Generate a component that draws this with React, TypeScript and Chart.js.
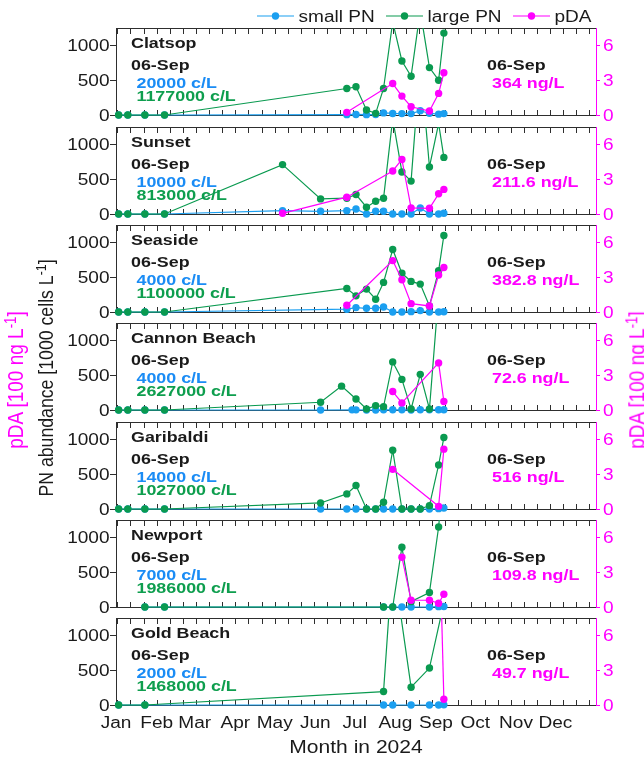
import React, { useEffect, useRef } from 'react';
import { Chart, registerables } from 'chart.js';

Chart.register(...registerables);

// ---------------- data ----------------
const siteNames = ['Clatsop', 'Sunset', 'Seaside', 'Cannon Beach', 'Garibaldi', 'Newport', 'Gold Beach'];
const latestDate = '06-Sep';
const smallLabels = ['20000 c/L', '10000 c/L', '4000 c/L', '4000 c/L', '14000 c/L', '7000 c/L', '2000 c/L'];
const largeLabels = ['1177000 c/L', '813000 c/L', '1100000 c/L', '2627000 c/L', '1027000 c/L', '1986000 c/L', '1468000 c/L'];
const pdaLabels = ['364 ng/L', '211.6 ng/L', '382.8 ng/L', '72.6 ng/L', '516 ng/L', '109.8 ng/L', '49.7 ng/L'];
const legendLabels = ['small PN', 'large PN', 'pDA'];

const monthLabels = ['Jan', 'Feb', 'Mar', 'Apr', 'May', 'Jun', 'Jul', 'Aug', 'Sep', 'Oct', 'Nov', 'Dec'];
const monthStartDays = [0, 31, 60, 91, 121, 152, 182, 213, 244, 274, 305, 335];
const minorTickDays = [1, 11, 21, 31, 41, 51, 61, 71, 81, 91, 101, 111, 121, 131, 141, 151, 161, 171, 181, 191, 201, 211, 221, 231, 241, 251, 261, 271, 281, 291, 301, 311, 321, 331, 341, 351, 361];
const pnTicks = [0, 500, 1000];
const pdaTicks = [0, 3, 6];

// Clatsop
const clatsopDays = [2, 9, 22, 37, 176, 183, 191, 198, 204, 211, 218, 225, 232, 239, 246, 250];
const clatsopSmall = [0, 0, 0, 0, 5, 8, 5, 6, 30, 22, 20, 20, 60, 25, 12, 20];
const clatsopLarge = [0, 0, 0, 0, 381, 405, 71, 24, 381, 1340, 776, 557, 1500, 681, 500, 1177];
const clatsopPdaDays = [176, 211, 218, 225, 239, 246, 250];
const clatsopPda = [0.23, 2.71, 1.63, 0.71, 0.34, 1.86, 3.64];

// Sunset
const sunsetDays = [2, 9, 22, 37, 127, 156, 176, 183, 191, 198, 204, 211, 218, 225, 232, 239, 246, 250];
const sunsetSmall = [0, 0, 0, 0, 48, 39, 48, 72, 0, 39, 39, 0, 0, 0, 87, 0, 0, 10];
const sunsetLarge = [0, 0, 0, 0, 710, 217, 227, 280, 97, 184, 227, 1370, 604, 473, 2200, 676, 1300, 813];
const sunsetPdaDays = [127, 176, 211, 218, 225, 239, 246, 250];
const sunsetPda = [0.06, 1.45, 3.71, 4.7, 0.52, 0.49, 1.74, 2.12];

// Seaside
const seasideDays = [2, 9, 22, 37, 176, 183, 191, 198, 204, 211, 218, 225, 232, 239, 246, 250];
const seasideSmall = [0, 0, 0, 0, 40, 63, 53, 53, 72, 0, 0, 5, 20, 0, 0, 4];
const seasideLarge = [0, 0, 0, 0, 338, 232, 329, 184, 425, 899, 556, 440, 401, 87, 594, 1100];
const seasidePdaDays = [176, 211, 218, 225, 239, 246, 250];
const seasidePda = [0.58, 4.43, 2.78, 0.72, 0.52, 3.19, 3.83];

// Cannon Beach
const cannonSmallDays = [2, 9, 22, 37, 156, 180, 183, 191, 198, 204, 211, 218, 225, 232, 239, 246, 250];
const cannonSmall = [0, 0, 0, 0, 0, 2, 2, 0, 0, 3, 3, 3, 0, 3, 3, 4, 4];
const cannonLargeDays = [2, 9, 22, 37, 156, 172, 183, 191, 198, 204, 211, 218, 225, 232, 239, 250];
const cannonLarge = [0, 0, 0, 0, 111, 343, 159, 14, 63, 48, 691, 440, 14, 512, 14, 2627];
const cannonPdaDays = [211, 218, 246, 250];
const cannonPda = [1.59, 0.61, 4.06, 0.73];

// Garibaldi
const garibaldiDays = [2, 9, 22, 37, 156, 176, 183, 191, 198, 204, 211, 218, 225, 232, 239, 246, 250];
const garibaldiSmall = [0, 0, 0, 0, 0, 0, 0, 0, 0, 0, 0, 0, 0, 0, 0, 5, 14];
const garibaldiLarge = [0, 0, 0, 0, 87, 217, 338, 0, 0, 97, 845, 0, 0, 0, 48, 633, 1027];
const garibaldiPdaDays = [211, 246, 250];
const garibaldiPda = [3.42, 0.23, 5.16];

// Newport
const newportDays = [22, 37, 204, 211, 218, 225, 239, 246, 250];
const newportSmall = [0, 0, 0, 0, 0, 0, 0, 5, 7];
const newportLarge = [0, 0, 0, 0, 860, 77, 208, 1150, 1986];
const newportPdaDays = [218, 225, 239, 246, 250];
const newportPda = [4.29, 0.58, 0.58, 0.32, 1.1];

// Gold Beach
const goldSmallDays = [2, 22, 204, 211, 225, 239, 246, 250];
const goldSmall = [0, 0, 0, 0, 0, 0, 0, 2];
const goldLargeDays = [2, 22, 204, 211, 225, 239, 250];
const goldLarge = [0, 0, 193, 2100, 256, 531, 1468];
const goldPdaDays = [246, 250];
const goldPda = [17.6, 0.5];

const sites = [
  { smallDays: clatsopDays, small: clatsopSmall, largeDays: clatsopDays, large: clatsopLarge, pdaDays: clatsopPdaDays, pda: clatsopPda },
  { smallDays: sunsetDays, small: sunsetSmall, largeDays: sunsetDays, large: sunsetLarge, pdaDays: sunsetPdaDays, pda: sunsetPda },
  { smallDays: seasideDays, small: seasideSmall, largeDays: seasideDays, large: seasideLarge, pdaDays: seasidePdaDays, pda: seasidePda },
  { smallDays: cannonSmallDays, small: cannonSmall, largeDays: cannonLargeDays, large: cannonLarge, pdaDays: cannonPdaDays, pda: cannonPda },
  { smallDays: garibaldiDays, small: garibaldiSmall, largeDays: garibaldiDays, large: garibaldiLarge, pdaDays: garibaldiPdaDays, pda: garibaldiPda },
  { smallDays: newportDays, small: newportSmall, largeDays: newportDays, large: newportLarge, pdaDays: newportPdaDays, pda: newportPda },
  { smallDays: goldSmallDays, small: goldSmall, largeDays: goldLargeDays, large: goldLarge, pdaDays: goldPdaDays, pda: goldPda },
];

// ---------------- style / layout ----------------
const FONT = '"Liberation Sans", Arial, Helvetica, sans-serif';
const STRETCH = 1.19;
const INK = '#1a1a1a';
const AXIS = '#2e2e2e';
const BLUE = '#1B9FF0';
const BLUE_TEXT = '#1A8CF5';
const GREEN = '#0A9A50';
const GREEN_TEXT = '#0E9E4E';
const MAGENTA = '#FF00FF';
const W = 644;
const PANEL_TOPS = [28, 127, 225, 323, 422, 520, 618];
const PANEL_H = 87;
const PLOT_LEFT = 116;
const PLOT_RIGHT = 596;
const MARKER_R = 3.7;

function drawText(ctx: CanvasRenderingContext2D, text: string, x: number, y: number, align: CanvasTextAlign, font: string, color: string) {
  ctx.save();
  ctx.translate(x, y);
  ctx.scale(STRETCH, 1);
  ctx.font = font;
  ctx.fillStyle = color;
  ctx.textAlign = align;
  ctx.textBaseline = 'alphabetic';
  ctx.fillText(text, 0, 0);
  ctx.restore();
}

function makePlugin(idx: number) {
  return {
    id: 'panelDeco' + idx,
    beforeDatasetsDraw(chart: any) {
      const ctx: CanvasRenderingContext2D = chart.ctx;
      const { left, right, top, bottom } = chart.chartArea;
      const xs = chart.scales.x;
      const yl = chart.scales.y;
      const yr = chart.scales.y2;
      ctx.save();
      ctx.strokeStyle = AXIS;
      ctx.lineWidth = 1;
      ctx.beginPath();
      ctx.moveTo(left, top + 0.5);
      ctx.lineTo(right, top + 0.5);
      ctx.moveTo(left, bottom + 0.5);
      ctx.lineTo(right, bottom + 0.5);
      for (const d of minorTickDays) {
        const px = Math.round(xs.getPixelForValue(d)) + 0.5;
        ctx.moveTo(px, bottom);
        ctx.lineTo(px, bottom - 5);
        ctx.moveTo(px, top + 1);
        ctx.lineTo(px, top + 6);
      }
      ctx.stroke();
      ctx.restore();

      const tickFont = `16px ${FONT}`;
      for (const t of pnTicks) drawText(ctx, String(t), left - 6.5, yl.getPixelForValue(t) + 5.8, 'right', tickFont, INK);
      for (const t of pdaTicks) drawText(ctx, String(t), right + 7, yr.getPixelForValue(t) + 5.8, 'left', tickFont, MAGENTA);

      const bold = `bold 15px ${FONT}`;
      drawText(ctx, siteNames[idx], left + 15, top + 19.5, 'left', bold, INK);
      drawText(ctx, latestDate, left + 15, top + 42, 'left', bold, INK);
      drawText(ctx, smallLabels[idx], left + 20.5, top + 60, 'left', bold, BLUE_TEXT);
      drawText(ctx, largeLabels[idx], left + 20.5, top + 72.5, 'left', bold, GREEN_TEXT);
      drawText(ctx, latestDate, 487, top + 42, 'left', bold, INK);
      drawText(ctx, pdaLabels[idx], 492, top + 60, 'left', bold, MAGENTA);
    },
    afterDraw(chart: any) {
      const ctx: CanvasRenderingContext2D = chart.ctx;
      const { bottom } = chart.chartArea;
      if (idx === 0) {
        const colors = [BLUE, GREEN, MAGENTA];
        const starts = [257, 386, 513];
        const y = 16;
        legendLabels.forEach((lab, i) => {
          const x0 = starts[i];
          ctx.save();
          ctx.strokeStyle = colors[i];
          ctx.lineWidth = 1.2;
          ctx.beginPath();
          ctx.moveTo(x0, y);
          ctx.lineTo(x0 + 37, y);
          ctx.stroke();
          ctx.fillStyle = colors[i];
          ctx.beginPath();
          ctx.arc(x0 + 18.5, y, MARKER_R, 0, Math.PI * 2);
          ctx.fill();
          ctx.restore();
          drawText(ctx, lab, x0 + 41.5, y + 5.8, 'left', `16px ${FONT}`, INK);
        });
      }
      if (idx === sites.length - 1) {
        const xs = chart.scales.x;
        monthLabels.forEach((m, i) => {
          drawText(ctx, m, xs.getPixelForValue(monthStartDays[i]), bottom + 23, 'center', `16px ${FONT}`, INK);
        });
        drawText(ctx, 'Month in 2024', (xs.left + xs.right) / 2, bottom + 48, 'center', `17.7px ${FONT}`, INK);
      }
    },
  };
}

function makeDataset(label: string, days: number[], vals: number[], color: string, axis: string, order: number) {
  return {
    label,
    data: days.map((d, i) => ({ x: d, y: vals[i] })),
    yAxisID: axis,
    xAxisID: 'x',
    borderColor: color,
    backgroundColor: color,
    pointBackgroundColor: color,
    pointBorderColor: color,
    borderWidth: 1.2,
    pointRadius: MARKER_R,
    pointBorderWidth: 0,
    pointHoverRadius: MARKER_R,
    tension: 0,
    order,
    clip: { left: 8, right: 8, top: 0, bottom: 8 },
  };
}

function Panel({ idx }: { idx: number }) {
  const ref = useRef<HTMLCanvasElement | null>(null);
  const padTop = idx === 0 ? PANEL_TOPS[0] : 10;
  const padBottom = idx === sites.length - 1 ? 757 - (PANEL_TOPS[idx] + PANEL_H) : 12;
  const canvasTop = PANEL_TOPS[idx] - padTop;
  const h = padTop + PANEL_H + padBottom;

  useEffect(() => {
    const s = sites[idx];
    const chart = new Chart(ref.current as HTMLCanvasElement, {
      type: 'line',
      data: {
        datasets: [
          makeDataset('pDA', s.pdaDays, s.pda, MAGENTA, 'y2', 0),
          makeDataset('large PN', s.largeDays, s.large, GREEN, 'y', 1),
          makeDataset('small PN', s.smallDays, s.small, BLUE, 'y', 2),
        ] as any,
      },
      options: {
        animation: false,
        responsive: false,
        maintainAspectRatio: false,
        devicePixelRatio: 1,
        events: [],
        layout: { padding: { top: padTop, bottom: padBottom, left: 0, right: 0 } },
        plugins: { legend: { display: false }, tooltip: { enabled: false }, title: { display: false } },
        scales: {
          x: { type: 'linear', min: 0, max: 366, display: false },
          y: {
            type: 'linear',
            position: 'left',
            min: 0,
            max: 1250,
            afterBuildTicks: (sc: any) => { sc.ticks = pnTicks.map((v) => ({ value: v })); },
            afterFit: (sc: any) => { sc.width = PLOT_LEFT; },
            ticks: { display: false },
            grid: { drawOnChartArea: false, drawTicks: true, tickLength: 6, color: AXIS, lineWidth: 1 },
            border: { display: true, color: AXIS, width: 1 },
          },
          y2: {
            type: 'linear',
            position: 'right',
            min: 0,
            max: 7.5,
            afterBuildTicks: (sc: any) => { sc.ticks = pdaTicks.map((v) => ({ value: v })); },
            afterFit: (sc: any) => { sc.width = W - PLOT_RIGHT; },
            ticks: { display: false },
            grid: { drawOnChartArea: false, drawTicks: true, tickLength: 4, color: MAGENTA, lineWidth: 1 },
            border: { display: true, color: MAGENTA, width: 1 },
          },
        },
      } as any,
      plugins: [makePlugin(idx)],
    });
    return () => chart.destroy();
  }, [idx]);

  return (
    <canvas
      ref={ref}
      width={W}
      height={h}
      style={{ position: 'absolute', left: 0, top: canvasTop, width: W, height: h, display: 'block' }}
    />
  );
}

function RotTitle({ cx, cy, color, size, children }: { cx: number; cy: number; color: string; size: number; children: any }) {
  return (
    <div
      style={{
        position: 'absolute',
        left: cx,
        top: cy,
        transform: `translate(-50%, -50%) rotate(-90deg) scale(1, ${STRETCH})`,
        whiteSpace: 'nowrap',
        fontFamily: FONT,
        fontSize: `${size}px`,
        lineHeight: 1,
        color,
      }}
    >
      {children}
    </div>
  );
}

const sup = (t: string) => (
  <span style={{ fontSize: '0.7em', position: 'relative', top: '-0.45em' }}>{t}</span>
);

export default function App() {
  return (
    <div style={{ position: 'absolute', left: 0, top: 0, width: W, height: 757, overflow: 'hidden', background: '#fff' }}>
      {sites.map((_, i) => (
        <Panel key={i} idx={i} />
      ))}
      <RotTitle cx={15} cy={380} color={MAGENTA} size={19}>pDA [100 ng L{sup('-1')}]</RotTitle>
      <RotTitle cx={46.5} cy={378} color={INK} size={17.7}>PN abundance [1000 cells L{sup('-1')}]</RotTitle>
      <RotTitle cx={637} cy={380} color={MAGENTA} size={19}>pDA [100 ng L{sup('-1')}]</RotTitle>
    </div>
  );
}
